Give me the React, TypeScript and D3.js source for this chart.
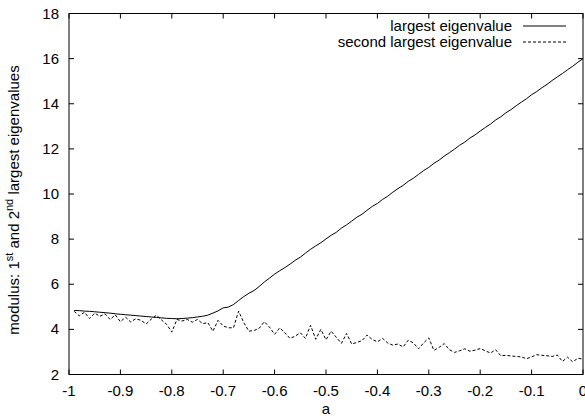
import React from "react";
import * as d3 from "d3";

const xs: number[] = d3.range(100).map((i) => +(-0.99 + i * 0.01).toFixed(2));

const largest: number[] = [
  4.84, 4.83, 4.81, 4.8, 4.78, 4.76, 4.74, 4.72, 4.69, 4.67,
  4.65, 4.63, 4.61, 4.59, 4.57, 4.55, 4.53, 4.51, 4.49, 4.48,
  4.47, 4.48, 4.5, 4.52, 4.55, 4.58, 4.63, 4.72, 4.82, 4.95,
  4.99, 5.1, 5.28, 5.45, 5.6, 5.72, 5.9, 6.1, 6.27, 6.45,
  6.6, 6.74, 6.89, 7.06, 7.2, 7.38, 7.55, 7.7, 7.84, 8.01,
  8.17, 8.3, 8.49, 8.63, 8.8, 8.97, 9.1, 9.28, 9.45, 9.58,
  9.76, 9.9, 10.08, 10.24, 10.38, 10.56, 10.7, 10.87, 11.04, 11.18,
  11.36, 11.5, 11.68, 11.83, 11.99, 12.16, 12.3, 12.48, 12.62, 12.79,
  12.95, 13.1, 13.28, 13.42, 13.6, 13.74, 13.91, 14.07, 14.22, 14.4,
  14.54, 14.71, 14.86, 15.03, 15.19, 15.34, 15.51, 15.66, 15.84, 16.0,
];

const second: number[] = [
  4.8, 4.6, 4.76, 4.48, 4.72, 4.58, 4.69, 4.44, 4.64, 4.34,
  4.54, 4.33, 4.47, 4.4, 4.24, 4.45, 4.63, 4.42, 4.22, 3.88,
  4.44, 4.37, 4.44, 4.32, 4.44, 4.25, 4.3, 3.92, 4.4, 4.15,
  4.07, 4.07, 4.81, 4.3, 3.92, 3.95, 4.05, 4.34, 4.1, 3.78,
  4.07, 3.85, 3.6, 3.7, 3.85, 3.6, 4.18, 3.56, 4.0, 3.54,
  3.92, 3.65, 3.38, 3.82, 3.35, 3.42, 3.5, 3.75, 3.55, 3.45,
  3.6, 3.4, 3.3, 3.35, 3.22, 3.52, 3.4, 3.14, 3.4, 3.62,
  3.07, 3.2, 3.37, 3.1, 2.98, 3.05, 3.14, 3.03, 3.08, 3.15,
  3.05, 2.95, 3.1, 2.83, 2.85, 2.82, 2.8, 2.78, 2.7, 2.78,
  2.88, 2.85, 2.83, 2.8, 2.86, 2.58, 2.77, 2.56, 2.72, 2.68,
];

const xTicks: number[] = [-1, -0.9, -0.8, -0.7, -0.6, -0.5, -0.4, -0.3, -0.2, -0.1, 0];
const yTicks: number[] = [2, 4, 6, 8, 10, 12, 14, 16, 18];
const seriesNames: string[] = ["largest eigenvalue", "second largest eigenvalue"];

const W = 585;
const H = 420;
const L = 69;
const R = 583;
const T = 13.5;
const B = 374.5;
const FONT = "'Liberation Sans', Arial, Helvetica, sans-serif";

export default function App() {
  const x = d3.scaleLinear().domain([-1, 0]).range([L, R]);
  const y = d3.scaleLinear().domain([2, 18]).range([B, T]);
  const line = d3
    .line<number>()
    .x((_, i) => x(xs[i]))
    .y((d) => y(d));
  const tk = 5;

  return (
    <svg
      width={W}
      height={H}
      style={{ position: "absolute", left: 0, top: 0, background: "#fff" }}
      fontFamily={FONT}
    >
      <rect x={0} y={0} width={W} height={H} fill="#fff" />
      {/* ticks */}
      {xTicks.map((t) => (
        <g key={"xt" + t}>
          <line x1={x(t)} x2={x(t)} y1={B} y2={B - tk} stroke="#000" />
          <line x1={x(t)} x2={x(t)} y1={T} y2={T + tk} stroke="#000" />
          <text x={x(t)} y={396} fontSize={15} textAnchor="middle" fill="#000">
            {t === 0 ? "0" : String(t)}
          </text>
        </g>
      ))}
      {yTicks.map((t) => (
        <g key={"yt" + t}>
          <line x1={L} x2={L + tk} y1={y(t)} y2={y(t)} stroke="#000" />
          <line x1={R} x2={R - tk} y1={y(t)} y2={y(t)} stroke="#000" />
          <text x={59} y={y(t) + 5} fontSize={15} textAnchor="end" fill="#000">
            {t}
          </text>
        </g>
      ))}
      <rect x={L} y={T} width={R - L} height={B - T} fill="none" stroke="#000" strokeWidth={1} />

      <path d={line(largest) || ""} fill="none" stroke="#000" strokeWidth={1} />
      <path d={line(second) || ""} fill="none" stroke="#000" strokeWidth={1} strokeDasharray="3,2" />

      {/* legend */}
      <text x={512} y={31} fontSize={15} textAnchor="end" fill="#000">{seriesNames[0]}</text>
      <line x1={523} x2={566} y1={26} y2={26} stroke="#000" />
      <text x={512} y={47} fontSize={15} textAnchor="end" fill="#000">{seriesNames[1]}</text>
      <line x1={523} x2={566} y1={42} y2={42} stroke="#000" strokeDasharray="3,2" />

      {/* axis labels */}
      <text x={(L + R) / 2} y={414} fontSize={15} textAnchor="middle" fill="#000">a</text>
      <text
        transform={`translate(19, ${(T + B) / 2 + 6}) rotate(-90)`}
        fontSize={15}
        textAnchor="middle"
        fill="#000"
      >
        modulus: 1
        <tspan fontSize={11} dy={-6}>st</tspan>
        <tspan dy={6}> and 2</tspan>
        <tspan fontSize={11} dy={-6}>nd</tspan>
        <tspan dy={6}> largest eigenvalues</tspan>
      </text>
    </svg>
  );
}
